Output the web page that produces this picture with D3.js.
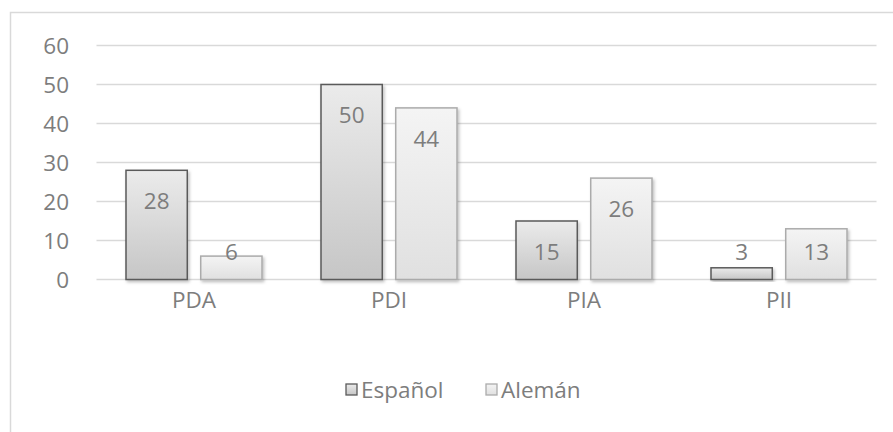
<!DOCTYPE html>
<html><head><meta charset="utf-8">
<script src="https://cdn.jsdelivr.net/npm/d3@7"></script>
<style>body{margin:0;background:#fff}svg{display:block}</style>
</head><body>
<script>
const categories = ["PDA", "PDI", "PIA", "PII"];
const seriesNames = ["Español", "Alemán"];
const espanol = [28, 50, 15, 3];
const aleman = [6, 44, 26, 13];
const yTicks = [0, 10, 20, 30, 40, 50, 60];

const W = 893, H = 432;
const font = "'Open Sans', sans-serif";
const fs = 22.5;
const textColor = "#7d7d7d";
const svg = d3.select("body").append("svg").attr("width", W).attr("height", H);

const defs = svg.append("defs");
const g1 = defs.append("linearGradient").attr("id", "gEsp").attr("x1", 0).attr("y1", 0).attr("x2", 0).attr("y2", 1);
g1.append("stop").attr("offset", "0%").attr("stop-color", "#ebebeb");
g1.append("stop").attr("offset", "100%").attr("stop-color", "#c6c6c6");
const g2 = defs.append("linearGradient").attr("id", "gAle").attr("x1", 0).attr("y1", 0).attr("x2", 0).attr("y2", 1);
g2.append("stop").attr("offset", "0%").attr("stop-color", "#f4f4f4");
g2.append("stop").attr("offset", "100%").attr("stop-color", "#e0e0e0");
const f = defs.append("filter").attr("id", "shadow").attr("x", "-20%").attr("y", "-20%").attr("width", "140%").attr("height", "140%");
f.append("feDropShadow").attr("dx", 1.5).attr("dy", 2).attr("stdDeviation", 1.5).attr("flood-color", "#000").attr("flood-opacity", 0.25);

// outer border
svg.append("path").attr("d", `M10.5,${H} V12.5 H${W}`).attr("fill", "none").attr("stroke", "#d9d9d9").attr("stroke-width", 1.5);

const x = d3.scaleBand().domain(categories).range([96.5, 876.5]).paddingInner(0).paddingOuter(0);
const y = d3.scaleLinear().domain([0, 60]).range([279.5, 45.5]);
const xs = d3.scaleBand().domain(seriesNames).range([29.5, x.bandwidth() - 29.5]).paddingInner(0.18);

// gridlines
svg.append("g").selectAll("line").data(yTicks).join("line")
  .attr("x1", 96.5).attr("x2", 876.5)
  .attr("y1", d => y(d)).attr("y2", d => y(d))
  .attr("stroke", "#d9d9d9").attr("stroke-width", 1.5);

// y axis labels
const yAxis = d3.axisLeft(y).tickValues(yTicks).tickSize(0).tickPadding(0);
const ya = svg.append("g").attr("transform", "translate(69,0)").call(yAxis);
ya.select(".domain").remove();
ya.selectAll("text").attr("font-family", font).attr("font-size", fs).attr("fill", textColor).attr("dy", "0.35em");

// x axis labels
const xAxis = d3.axisBottom(x).tickSize(0).tickPadding(0);
const xa = svg.append("g").attr("transform", "translate(0,300)").call(xAxis);
xa.select(".domain").remove();
xa.selectAll("text").attr("font-family", font).attr("font-size", fs).attr("fill", textColor).attr("dy", "0.35em");

const series = [
  {name: "Español", values: espanol, fill: "url(#gEsp)", stroke: "#5a5a5a"},
  {name: "Alemán", values: aleman, fill: "url(#gAle)", stroke: "#ababab"}
];

series.forEach(s => {
  const gg = svg.append("g");
  gg.selectAll("rect").data(s.values).join("rect")
    .attr("x", (d, i) => x(categories[i]) + xs(s.name))
    .attr("width", xs.bandwidth())
    .attr("y", d => y(d))
    .attr("height", d => y(0) - y(d))
    .attr("fill", s.fill).attr("stroke", s.stroke).attr("stroke-width", 1.5)
    .attr("filter", "url(#shadow)");
});
series.forEach(s => {
  svg.append("g").selectAll("text").data(s.values).join("text")
    .attr("x", (d, i) => x(categories[i]) + xs(s.name) + xs.bandwidth() / 2)
    .attr("y", d => Math.min(y(d) + 31, y(0) - 27))
    .attr("dy", "0.35em")
    .attr("text-anchor", "middle")
    .attr("font-family", font).attr("font-size", fs).attr("fill", textColor)
    .text(d => d);
});

// legend
const leg = svg.append("g");
const legItems = [
  {name: "Español", x: 346, fill: "url(#gEsp)", stroke: "#5a5a5a"},
  {name: "Alemán", x: 486, fill: "url(#gAle)", stroke: "#ababab"}
];
legItems.forEach(l => {
  leg.append("rect").attr("x", l.x).attr("y", 384).attr("width", 11).attr("height", 11)
    .attr("fill", l.fill).attr("stroke", l.stroke).attr("stroke-width", 1.3);
  leg.append("text").attr("x", l.x + 15).attr("y", 390).attr("dy", "0.35em")
    .attr("font-family", font).attr("font-size", fs).attr("fill", textColor).text(l.name);
});
</script>
</body></html>
